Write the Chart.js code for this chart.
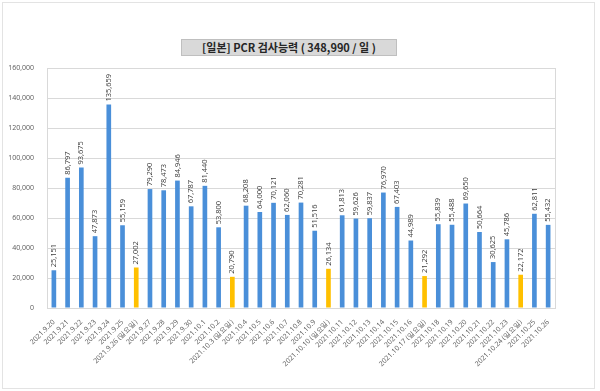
<!DOCTYPE html>
<html>
<head>
<meta charset="utf-8">
<script src="https://cdn.jsdelivr.net/npm/chart.js@4"></script>
<style>
  html, body { margin: 0; padding: 0; background: #fff; }
  #wrap { position: relative; width: 600px; height: 391px; }
  #title {
    position: absolute; left: 181px; top: 39px; width: 214px; height: 15px;
    background: #d9d9d9; border: 1px solid #bfbfbf;
    font: bold 11px "Noto Sans CJK KR", "Noto Sans", sans-serif; color: #262626;
    text-align: center; line-height: 15px; white-space: nowrap;
  }
</style>
</head>
<body>
<div id="wrap">
  <canvas id="c" width="600" height="391"></canvas>
  <div id="title">[일본] PCR 검사능력 ( 348,990 / 일 )</div>
</div>
<script>
const labels = [
  "2021.9.20", "2021.9.21", "2021.9.22", "2021.9.23", "2021.9.24", "2021.9.25", "2021.9.26 (일요일)",
  "2021.9.27", "2021.9.28", "2021.9.29", "2021.9.30", "2021.10.1", "2021.10.2", "2021.10.3 (일요일)",
  "2021.10.4", "2021.10.5", "2021.10.6", "2021.10.7", "2021.10.8", "2021.10.9", "2021.10.10 (일요일)",
  "2021.10.11", "2021.10.12", "2021.10.13", "2021.10.14", "2021.10.15", "2021.10.16", "2021.10.17 (일요일)",
  "2021.10.18", "2021.10.19", "2021.10.20", "2021.10.21", "2021.10.22", "2021.10.23", "2021.10.24 (일요일)",
  "2021.10.25", "2021.10.26"
];
const tests = [
  25151, 86797, 93675, 47873, 135659, 55159, 27002,
  79290, 78473, 84946, 67787, 81440, 53800, 20790,
  68208, 64000, 70121, 62060, 70281, 51516, 26134,
  61813, 59626, 59837, 76970, 67403, 44989, 21292,
  55839, 55488, 69650, 50664, 30625, 45786, 22172,
  62811, 55432
];
const yTicks = [0, 20000, 40000, 60000, 80000, 100000, 120000, 140000, 160000];

const BLUE = "#4a8fd9";
const YELLOW = "#ffc000";
const colors = labels.map(l => l.includes("일요일") ? YELLOW : BLUE);
const fmt = v => v.toLocaleString("en-US");

// vertical value labels above each bar
const valueLabels = {
  id: "valueLabels",
  afterDatasetsDraw(chart) {
    const ctx = chart.ctx;
    const meta = chart.getDatasetMeta(0);
    ctx.save();
    ctx.font = "7.5px 'Open Sans', sans-serif";
    ctx.fillStyle = "#404040";
    ctx.textAlign = "left";
    ctx.textBaseline = "middle";
    meta.data.forEach((bar, i) => {
      ctx.save();
      ctx.translate(bar.x, bar.y - 3);
      ctx.rotate(-Math.PI / 2);
      ctx.fillText(fmt(tests[i]), 0, 0);
      ctx.restore();
    });
    ctx.restore();
  }
};

// outer frame and right border of plot
const frame = {
  id: "frame",
  beforeDraw(chart) {
    const ctx = chart.ctx;
    ctx.save();
    ctx.strokeStyle = "#e3e3e3";
    ctx.lineWidth = 1;
    ctx.strokeRect(2.5, 2.5, 592, 386);
    ctx.restore();
  },
  afterDraw(chart) {
    const { ctx, chartArea } = chart;
    ctx.save();
    ctx.strokeStyle = "#d9d9d9";
    ctx.lineWidth = 1;
    ctx.beginPath();
    ctx.moveTo(Math.round(chartArea.right) + 0.5, chartArea.top);
    ctx.lineTo(Math.round(chartArea.right) + 0.5, chartArea.bottom);
    ctx.stroke();
    ctx.restore();
  }
};

new Chart(document.getElementById("c"), {
  type: "bar",
  data: {
    labels: labels,
    datasets: [{
      data: tests,
      backgroundColor: colors,
      barPercentage: 0.34,
      categoryPercentage: 1
    }]
  },
  options: {
    responsive: false,
    animation: false,
    layout: { padding: { top: 68, right: 45, left: 0, bottom: 0 } },
    plugins: { legend: { display: false }, tooltip: { enabled: false } },
    scales: {
      x: {
        grid: { display: false },
        border: { color: "#d9d9d9" },
        ticks: {
          autoSkip: false,
          maxRotation: 45,
          minRotation: 45,
          padding: 2,
          color: "#595959",
          font: { size: 7, family: "'Open Sans', sans-serif" }
        },
        afterFit(scale) { scale.height = 83; }
      },
      y: {
        min: 0,
        max: 160000,
        afterBuildTicks(scale) { scale.ticks = yTicks.map(v => ({ value: v })); },
        grid: { color: "#d9d9d9", drawTicks: false },
        border: { color: "#d9d9d9" },
        ticks: {
          padding: 13,
          color: "#595959",
          font: { size: 7, family: "'Open Sans', sans-serif" },
          callback: v => fmt(v)
        },
        afterFit(scale) { scale.width = 47; }
      }
    }
  },
  plugins: [valueLabels, frame]
});
</script>
</body>
</html>
